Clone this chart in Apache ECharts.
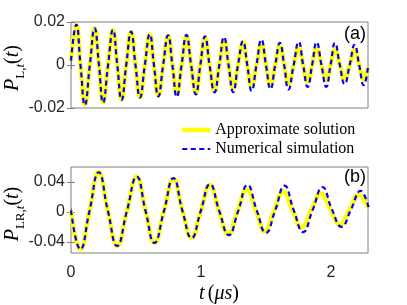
<!DOCTYPE html>
<html><head><meta charset="utf-8">
<script src="https://cdn.jsdelivr.net/npm/echarts@6/dist/echarts.min.js"></script>
<style>html,body{margin:0;padding:0;background:#fff}#c{width:407px;height:305px}</style>
</head><body><div id="c"></div>
<script>
// ---- data ----
const xTicks = [0, 1, 2];
const topYTicks = [-0.02, 0, 0.02];
const botYTicks = [-0.04, 0, 0.04];
const seriesNames = ['Approximate solution', 'Numerical simulation'];

const topT = [0, 0.041, 0.073, 0.107, 0.145, 0.182, 0.215, 0.247, 0.285, 0.323, 0.356, 0.389, 0.425, 0.462, 0.496, 0.531,
  0.568, 0.606, 0.638, 0.672, 0.709, 0.747, 0.780, 0.814, 0.851, 0.888, 0.924, 0.961, 0.995, 1.031, 1.066, 1.104,
  1.141, 1.177, 1.212, 1.248, 1.285, 1.323, 1.356, 1.390, 1.427, 1.465, 1.500, 1.535, 1.571, 1.607, 1.640, 1.673,
  1.713, 1.752, 1.786, 1.821, 1.855, 1.890, 1.927, 1.964, 1.997, 2.031, 2.068, 2.105, 2.144, 2.182, 2.217, 2.252, 2.285];
const topApprox = [0.002, 0.0186, 0, -0.0184, 0, 0.0170, 0, -0.0172, 0, 0.0162, 0, -0.0160, 0, 0.0152, 0, -0.0150,
  0, 0.0142, 0, -0.0142, 0, 0.0135, 0, -0.0134, 0, 0.0130, 0, -0.0126, 0, 0.0124, 0, -0.0118,
  0, 0.0115, 0, -0.0106, 0, 0.0105, 0, -0.0099, 0, 0.0098, 0, -0.0093, 0, 0.0090, 0, -0.0087,
  0, 0.0082, 0, -0.0078, 0, 0.0076, 0, -0.0071, 0, 0.0071, 0, -0.0068, 0, 0.0070, 0, -0.0068, -0.001];
const topNumer = [0.002, 0.0188, 0, -0.0186, 0, 0.0171, 0, -0.0175, 0, 0.0164, 0, -0.0163, 0, 0.0155, 0, -0.0151,
  0, 0.0143, 0, -0.0146, 0, 0.0138, 0, -0.0148, 0, 0.0140, 0, -0.0137, 0, 0.0133, 0, -0.0127,
  0, 0.0130, 0, -0.0126, 0, 0.0110, 0, -0.0121, 0, 0.0118, 0, -0.0111, 0, 0.0103, 0, -0.0114,
  0, 0.0108, 0, -0.0102, 0, 0.0106, 0, -0.0102, 0, 0.0102, 0, -0.0089, 0, 0.0094, 0, -0.0094, -0.001];

const botT = [0, 0.072, 0.142, 0.213, 0.284, 0.355, 0.430, 0.506, 0.574, 0.642, 0.715, 0.788, 0.858, 0.928, 0.998, 1.069,
  1.139, 1.210, 1.281, 1.352, 1.422, 1.492, 1.562, 1.633, 1.704, 1.775, 1.849, 1.923, 1.996, 2.069, 2.142, 2.215, 2.285];
const botNumT = [0, 0.072, 0.142, 0.213, 0.284, 0.355, 0.430, 0.506, 0.574, 0.642, 0.715, 0.788, 0.858, 0.928, 0.998, 1.069,
  1.141, 1.214, 1.286, 1.358, 1.429, 1.500, 1.571, 1.643, 1.714, 1.786, 1.860, 1.935, 2.008, 2.081, 2.154, 2.227, 2.295];
const botApprox = [0.002, -0.050, 0.001, 0.053, 0.001, -0.0452, 0.001, 0.047, 0.001, -0.0412, 0.001, 0.044, 0.001, -0.0345, 0.001, 0.036,
  0.001, -0.030, 0.001, 0.030, 0.002, -0.026, 0.002, 0.027, 0.002, -0.021, 0.003, 0.0247, 0.003, -0.017, 0.003, 0.0226, 0.005];
const botNumer = [0.002, -0.050, 0.001, 0.053, 0.001, -0.0455, 0.001, 0.047, 0.001, -0.0415, 0.001, 0.045, 0.001, -0.035, 0.001, 0.037,
  0.001, -0.031, 0.001, 0.036, 0.002, -0.028, 0.002, 0.035, 0.002, -0.027, 0.003, 0.033, 0.003, -0.020, 0.003, 0.028, 0.002];

// ---- chart ----
function pairs(t, v) { return t.map((x, i) => [x, v[i]]); }
const GRAY = '#808080';
const LABEL = '#262626';
const X_MAX = 2.285;
const tickStyle = { inside: true, length: 4, lineStyle: { color: GRAY, width: 1 } };

function xAx(grid, pos, labels) {
  return {
    gridIndex: grid, type: 'value', position: pos, min: 0, max: X_MAX,
    axisLine: { show: false },
    axisTick: Object.assign({ customValues: xTicks }, tickStyle),
    axisLabel: labels ? { show: true, customValues: xTicks, fontSize: 16, color: LABEL, margin: 12, fontFamily: 'Liberation Sans' } : { show: false },
    splitLine: { show: false }
  };
}
function yAx(grid, pos, min, max, ticks, labels) {
  return {
    gridIndex: grid, type: 'value', position: pos, min: min, max: max,
    axisLine: { show: false },
    axisTick: Object.assign({ customValues: ticks }, tickStyle),
    axisLabel: labels ? { show: true, customValues: ticks, fontSize: 16, color: LABEL, margin: 6, fontFamily: 'Liberation Sans' } : { show: false },
    splitLine: { show: false }
  };
}
function approxSeries(xi, data) {
  return { type: 'line', name: seriesNames[0], xAxisIndex: xi, yAxisIndex: xi, data: data, smooth: 0.5,
    symbol: 'none', clip: true, lineStyle: { color: '#ffff00', width: 4.5 }, itemStyle: { color: '#ffff00' }, z: 2 };
}
function numerSeries(xi, data) {
  return { type: 'line', name: seriesNames[1], xAxisIndex: xi, yAxisIndex: xi, data: data, smooth: 0.5,
    symbol: 'none', clip: true, lineStyle: { color: '#0000ff', width: 2.2, type: [5, 3.5], cap: 'butt' }, itemStyle: { color: '#0000ff' }, z: 3 };
}
const richY = {
  i: { fontFamily: 'Liberation Serif', fontStyle: 'italic', fontWeight: 'normal', fontSize: 20, lineHeight: 28, fill: '#000' },
  n: { fontFamily: 'Liberation Serif', fontStyle: 'normal', fontWeight: 'normal', fontSize: 20, lineHeight: 28, fill: '#000' },
  s: { fontFamily: 'Liberation Serif', fontStyle: 'normal', fontWeight: 'normal', fontSize: 13, lineHeight: 13, verticalAlign: 'bottom', fill: '#000' },
  si: { fontFamily: 'Liberation Serif', fontStyle: 'italic', fontWeight: 'normal', fontSize: 13, lineHeight: 13, verticalAlign: 'bottom', fill: '#000' }
};

const chart = echarts.init(document.getElementById('c'), null, { renderer: 'canvas' });
chart.setOption({
  animation: false,
  backgroundColor: '#ffffff',
  grid: [
    { left: 71, top: 22, width: 297, height: 86, show: true, borderColor: GRAY, borderWidth: 1, backgroundColor: 'transparent' },
    { left: 71, top: 167, width: 297, height: 86, show: true, borderColor: GRAY, borderWidth: 1, backgroundColor: 'transparent' }
  ],
  xAxis: [xAx(0, 'bottom', false), xAx(1, 'bottom', true), xAx(0, 'top', false), xAx(1, 'top', false)],
  yAxis: [yAx(0, 'left', -0.02, 0.02, topYTicks, true), yAx(1, 'left', -0.055, 0.06, botYTicks, true),
          yAx(0, 'right', -0.02, 0.02, topYTicks, false), yAx(1, 'right', -0.055, 0.06, botYTicks, false)],
  legend: {
    orient: 'vertical', left: 175, top: 117, itemWidth: 28, itemHeight: 14, itemGap: 3,
    data: seriesNames,
    lineStyle: { width: 'inherit' },
    itemStyle: { opacity: 0 },
    textStyle: { fontFamily: 'Liberation Serif', fontSize: 16, color: '#000' }
  },
  series: [
    approxSeries(0, pairs(topT, topApprox)), numerSeries(0, pairs(topT, topNumer)),
    approxSeries(1, pairs(botT, botApprox)), numerSeries(1, pairs(botNumT, botNumer))
  ],
  graphic: [
    { type: 'text', x: 355, y: 34, style: { text: '(a)', font: '18px "Liberation Sans"', fill: '#000', align: 'center', verticalAlign: 'middle' } },
    { type: 'text', x: 355, y: 177, style: { text: '(b)', font: '18px "Liberation Sans"', fill: '#000', align: 'center', verticalAlign: 'middle' } },
    { type: 'text', x: 13, y: 68, rotation: Math.PI / 2,
      style: { text: '{i|P}{s|L,}{si|t}{n|(}{i|t}{n|)}', align: 'center', verticalAlign: 'middle', fill: '#000', fontWeight: 'normal', rich: richY } },
    { type: 'text', x: 13, y: 214, rotation: Math.PI / 2,
      style: { text: '{i|P}{s|LR,}{si|t}{n|(}{i|t}{n|)}', align: 'center', verticalAlign: 'middle', fill: '#000', fontWeight: 'normal', rich: richY } },
    { type: 'text', x: 219, y: 294,
      style: { text: '{i|t} {n|(}{i|μs}{n|)}', align: 'center', verticalAlign: 'middle', fill: '#000',
        rich: {
          i: { fontFamily: 'Liberation Serif', fontStyle: 'italic', fontWeight: 'normal', fontSize: 20, fill: '#000' },
          n: { fontFamily: 'Liberation Serif', fontStyle: 'normal', fontWeight: 'normal', fontSize: 20, fill: '#000' }
        } } }
  ]
});
</script></body></html>
